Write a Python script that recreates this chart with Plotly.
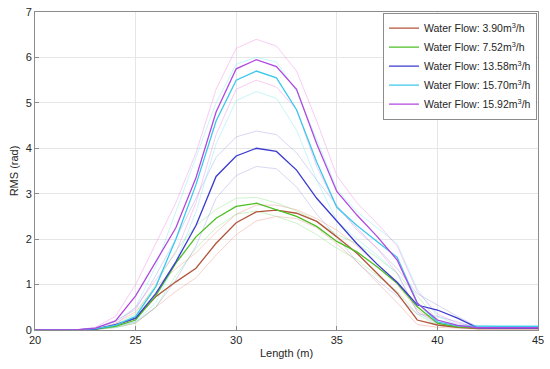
import plotly.graph_objects as go

length = list(range(20, 46))

labels = ["Water Flow: 3.90m<sup>3</sup>/h", "Water Flow: 7.52m<sup>3</sup>/h",
          "Water Flow: 13.58m<sup>3</sup>/h", "Water Flow: 15.70m<sup>3</sup>/h",
          "Water Flow: 15.92m<sup>3</sup>/h"]

red_mean = [0,0,0,0.02,0.1,0.26,0.73,1.06,1.36,1.91,2.36,2.6,2.64,2.57,2.39,2.05,1.69,1.25,0.81,0.22,0.11,0.06,0.03,0.03,0.03,0.03]
green_mean = [0,0,0,0.02,0.08,0.22,0.75,1.47,2.05,2.46,2.72,2.79,2.64,2.5,2.28,1.95,1.72,1.39,1.03,0.51,0.15,0.07,0.05,0.05,0.05,0.05]
blue_mean = [0,0,0,0.02,0.12,0.26,0.8,1.5,2.3,3.38,3.83,4.0,3.93,3.52,2.9,2.4,1.9,1.45,1.05,0.55,0.44,0.26,0.05,0.04,0.04,0.04]
cyan_mean = [0,0,0,0.03,0.1,0.3,0.95,2.0,3.2,4.6,5.5,5.7,5.55,4.85,3.7,2.7,2.3,1.95,1.6,0.6,0.18,0.09,0.08,0.08,0.08,0.08]
purple_mean = [0,0,0,0.04,0.2,0.75,1.5,2.25,3.35,4.8,5.75,5.95,5.8,5.3,4.1,3.05,2.53,2.06,1.54,0.59,0.22,0.1,0.05,0.05,0.05,0.05]

red_hi = [0,0,0,0.03,0.15,0.4,0.95,1.35,1.7,2.15,2.55,2.75,2.75,2.65,2.45,2.2,1.85,1.45,1.0,0.45,0.15,0.08,0.04,0.04,0.04,0.04]
red_lo = [0,0,0,0.01,0.06,0.15,0.5,0.85,1.15,1.65,2.1,2.4,2.5,2.45,2.25,1.9,1.5,1.05,0.6,0.12,0.06,0.04,0.02,0.02,0.02,0.02]
green_hi = [0,0,0,0.03,0.12,0.35,1.0,1.75,2.3,2.65,2.9,2.92,2.8,2.62,2.4,2.1,1.9,1.6,1.25,0.75,0.22,0.1,0.06,0.06,0.06,0.06]
green_lo = [0,0,0,0.01,0.05,0.15,0.5,1.2,1.8,2.25,2.55,2.62,2.5,2.35,2.1,1.8,1.55,1.2,0.85,0.35,0.1,0.05,0.04,0.04,0.04,0.04]
blue_hi = [0,0,0,0.03,0.2,0.45,1.2,2.0,2.9,3.8,4.25,4.38,4.3,3.9,3.3,2.75,2.2,1.8,1.35,0.8,0.55,0.3,0.07,0.05,0.05,0.05]
blue_lo = [0,0,0,0.01,0.08,0.18,0.5,1.1,1.85,2.9,3.4,3.6,3.55,3.15,2.55,2.05,1.5,1.1,0.75,0.35,0.3,0.18,0.04,0.03,0.03,0.03]
cyan_hi = [0,0,0,0.05,0.18,0.5,1.4,2.6,3.8,5.0,5.85,6.0,5.9,5.25,4.2,3.1,2.6,2.25,1.9,0.9,0.3,0.12,0.1,0.1,0.1,0.1]
cyan_lo = [0,0,0,0.02,0.06,0.18,0.6,1.5,2.6,4.1,5.05,5.25,5.1,4.4,3.3,2.4,2.0,1.65,1.25,0.4,0.12,0.07,0.06,0.06,0.06,0.06]
purple_hi = [0,0,0,0.06,0.3,1.0,1.9,2.8,3.9,5.3,6.2,6.4,6.25,5.7,4.6,3.4,2.8,2.35,1.85,0.85,0.35,0.15,0.07,0.07,0.07,0.07]
purple_lo = [0,0,0,0.02,0.12,0.5,1.1,1.7,2.8,4.3,5.3,5.5,5.35,4.85,3.6,2.7,2.25,1.8,1.25,0.4,0.15,0.07,0.04,0.04,0.04,0.04]

colors = ["#b2553a", "#4cbf22", "#3a3ad0", "#3cc8ec", "#b048e0"]
faint = ["#f08070", "#70e070", "#9090e0", "#60e8f0", "#f070e0"]
means = [red_mean, green_mean, blue_mean, cyan_mean, purple_mean]
envs = [(red_hi, red_lo), (green_hi, green_lo), (blue_hi, blue_lo),
        (cyan_hi, cyan_lo), (purple_hi, purple_lo)]

fig = go.Figure()
for i in range(5):
    for env in envs[i]:
        fig.add_trace(go.Scatter(x=length, y=env, mode="lines",
                                 line=dict(color=faint[i], width=1),
                                 opacity=0.35, showlegend=False, hoverinfo="skip"))
for i in range(5):
    fig.add_trace(go.Scatter(x=length, y=means[i], mode="lines", name=labels[i],
                             line=dict(color=colors[i], width=1.3)))

axis_common = dict(showgrid=True, gridcolor="#e6e6e6", gridwidth=1,
                   showline=True, linecolor="#8c8c8c", linewidth=1, mirror=True,
                   ticks="inside", ticklen=4, tickcolor="#8c8c8c",
                   tickfont=dict(size=11, color="#262626"), zeroline=False,
                   automargin=False)

fig.update_layout(
    width=550, height=369,
    margin=dict(l=35, r=12, t=12, b=39),
    paper_bgcolor="white", plot_bgcolor="white",
    font=dict(family="Liberation Sans, Arial, sans-serif", color="#262626"),
    xaxis=dict(range=[20, 45], dtick=5,
               title=dict(text="Length (m)", font=dict(size=11), standoff=4),
               **axis_common),
    yaxis=dict(range=[0, 7], dtick=1,
               title=dict(text="RMS (rad)", font=dict(size=11), standoff=4),
               **axis_common),
    legend=dict(x=0.998, y=0.998, xanchor="right", yanchor="top",
                bgcolor="white", bordercolor="#8c8c8c", borderwidth=1,
                font=dict(size=10.5, color="#262626"), tracegroupgap=0,
                itemwidth=30),
    showlegend=True,
)

fig.write_html("out.html", config={"displayModeBar": False},
               post_script="document.body.style.margin='0px';document.body.style.padding='0px';")
